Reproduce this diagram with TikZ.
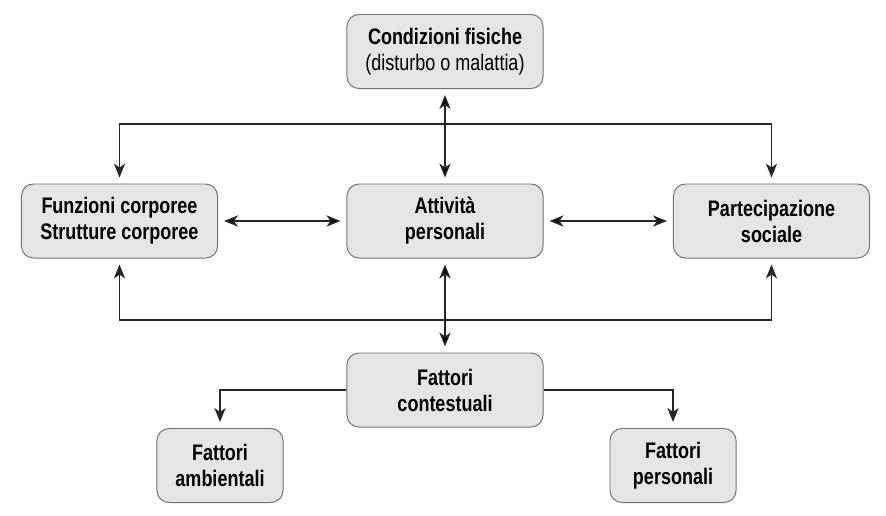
\documentclass[tikz,border=0pt]{standalone}
\usepackage{fontspec}
\setmainfont{Liberation Sans}[FakeStretch=0.8]
\usetikzlibrary{arrows.meta}

\begin{document}
\begin{tikzpicture}[x=0.025cm,y=-0.025cm,
  >={Stealth[length=3.5mm,width=2.8mm,inset=1mm]},
  box/.style={draw=black!55,fill=black!10,rounded corners=0.3cm,line width=0.7pt,
    minimum width=4.9cm,minimum height=1.85cm,align=center,
    font=\bfseries\fontsize{16}{18.5}\selectfont},
  link/.style={draw=black!85,line width=1pt,shorten >=0.15cm},
  dbl/.style={link,<->,shorten <=0.15cm}]
\useasboundingbox (0,0) rectangle (886,515);
\node[box] (cond) at (445,51.5) {Condizioni fisiche\\{\mdseries(disturbo o malattia)}};
\node[box] (funz) at (119.5,221) {Funzioni corporee\\Strutture corporee};
\node[box] (att) at (445,221) {Attività\\personali};
\node[box] (part) at (771.5,221) {Partecipazione\\sociale};
\node[box] (cont) at (445,390) {Fattori\\contestuali};
\node[box,minimum width=3.15cm] (amb) at (220,465.5) {Fattori\\ambientali};
\node[box,minimum width=3.15cm] (pers) at (673,465.5) {Fattori\\personali};
\coordinate (alto) at (445,124);
\coordinate (basso) at (445,320);
\path[dbl] (cond) edge (att)
  (att) edge (cont)
  (funz) edge (att)
  (att) edge (part);
\draw[dbl] (funz.north) -- (funz.north |- alto) -- (part.north |- alto) -- (part.north);
\draw[dbl] (funz.south) -- (funz.south |- basso) -- (part.south |- basso) -- (part.south);
\draw[link,->] (cont.west) -| (amb.north);
\draw[link,->] (cont.east) -| (pers.north);
\end{tikzpicture}
\end{document}
